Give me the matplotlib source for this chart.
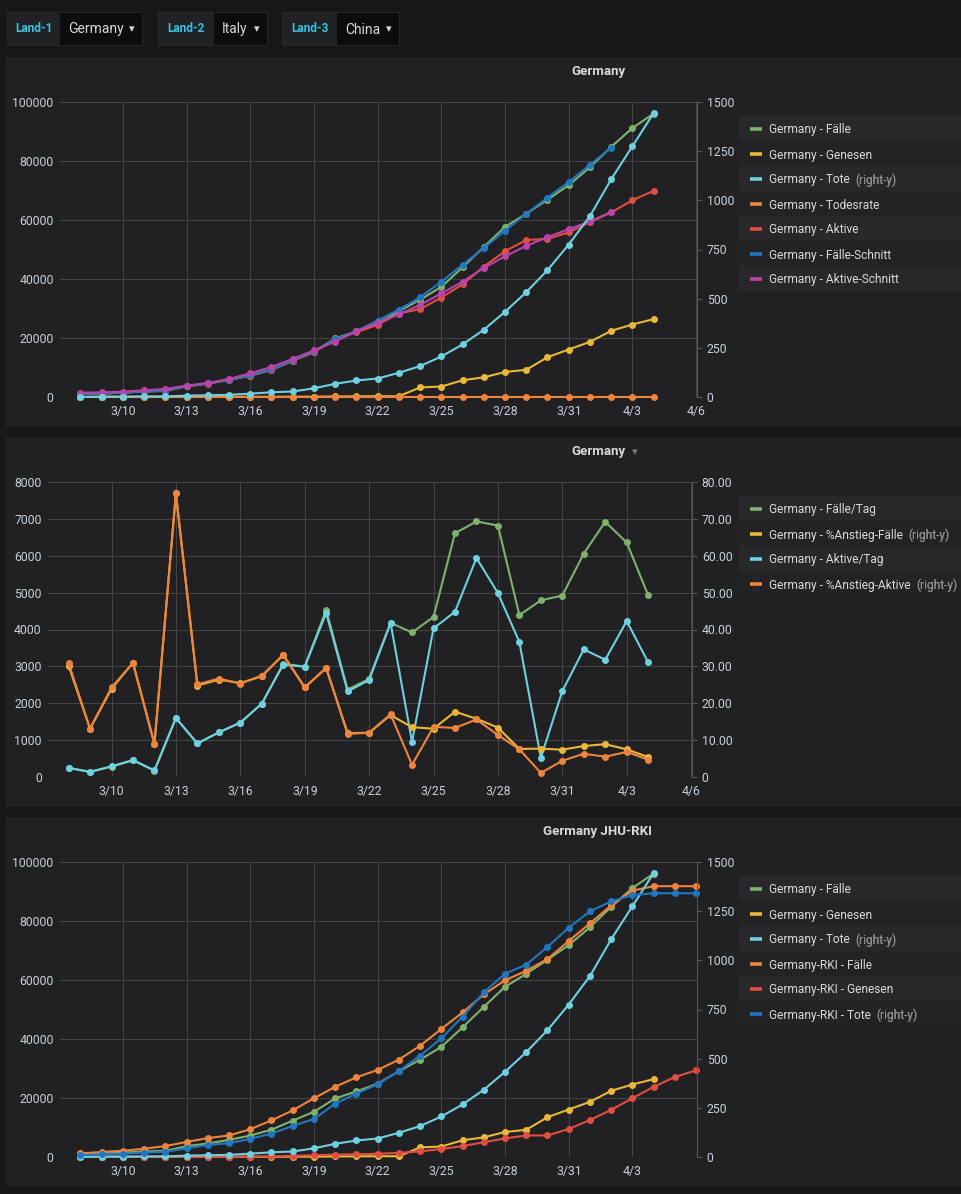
import matplotlib
matplotlib.use("Agg")
import matplotlib.pyplot as plt
from matplotlib.patches import Rectangle, FancyBboxPatch
import pandas as pd

# Bildgröße in Pixeln (dpi=100)
W, H = 962, 1194

BG = "#161719"
PANEL = "#212124"
GRID = "#444447"
TXT = "#c7d0d9"
TITLE = "#d8d9da"

GREEN, YELLOW, CYAN = "#7EB26D", "#EAB839", "#6ED0E0"
ORANGE, RED, BLUE, PURPLE = "#EF843C", "#E24D42", "#1F78C1", "#BA43A9"

# ── Daten ──
dates_jhu = pd.date_range("2020-03-08", "2020-04-04")      # 28 Tage
dates_schnitt = pd.date_range("2020-03-08", "2020-04-02")  # 26 Tage
dates_rki = pd.date_range("2020-03-08", "2020-04-06")      # 30 Tage
tick_dates = pd.date_range("2020-03-10", "2020-04-06", freq="3D")
tick_labels = ["3/10", "3/13", "3/16", "3/19", "3/22", "3/25", "3/28", "3/31", "4/3", "4/6"]

faelle = [1040, 1176, 1457, 1908, 2078, 3675, 4585, 5795, 7272, 9257, 12327, 15320,
          19848, 22213, 24873, 29056, 32986, 37323, 43938, 50871, 57695, 62095,
          66885, 71808, 77872, 84794, 91159, 96092]
genesen = [18, 18, 18, 25, 25, 46, 46, 46, 67, 67, 105, 113, 180, 233, 266, 266,
           3243, 3547, 5673, 6658, 8481, 9211, 13500, 16100, 18700, 22440, 24575, 26400]
tote = [0, 2, 2, 3, 3, 7, 9, 11, 17, 24, 28, 44, 67, 84, 94, 123, 157, 206, 267,
        342, 433, 533, 645, 775, 920, 1107, 1275, 1444]
todesrate = [0.0, 0.17, 0.14, 0.16, 0.14, 0.19, 0.2, 0.19, 0.23, 0.26, 0.23, 0.29,
             0.34, 0.38, 0.38, 0.42, 0.48, 0.55, 0.61, 0.67, 0.75, 0.86, 0.96, 1.08,
             1.18, 1.31, 1.4, 1.5]
aktive = [1020, 1160, 1440, 1880, 2050, 3620, 4530, 5740, 7190, 9170, 12190, 15160,
          19600, 21900, 24500, 28300, 29800, 33700, 38200, 44200, 49400, 53200,
          53600, 55800, 59300, 62550, 66700, 69900]
faelle_schnitt = [1050, 1200, 1480, 1900, 2150, 3650, 4600, 5850, 7350, 9400, 12400,
                  15500, 19500, 22300, 25900, 29600, 33800, 39100, 44800, 50500,
                  56400, 62100, 67600, 72900, 78700, 84500]
aktive_schnitt = [1470, 1580, 1800, 2260, 2700, 3850, 4750, 6100, 8000, 10200, 12900,
                  15800, 18800, 22300, 25200, 28000, 31200, 35100, 39100, 43700,
                  47700, 51200, 54200, 56900, 59500, 62700]

faelle_tag = [241, 136, 281, 451, 170, 1597, 910, 1210, 1477, 1985, 3070, 2993, 4530,
              2370, 2660, 4180, 3920, 4340, 6610, 6930, 6820, 4390, 4790, 4920, 6060,
              6920, 6360, 4930]
anstieg_faelle = [30.2, 13.1, 23.9, 31.0, 8.9, 76.9, 24.8, 26.4, 25.5, 27.3, 33.2,
                  24.3, 29.6, 11.9, 12.0, 16.8, 13.5, 13.1, 17.7, 15.8, 13.4, 7.6,
                  7.7, 7.4, 8.4, 8.9, 7.5, 5.4]
aktive_tag = [250, 140, 290, 460, 180, 1600, 910, 1210, 1470, 1990, 3050, 2990, 4450,
              2320, 2630, 4180, 950, 4030, 4480, 5940, 4990, 3660, 520, 2330, 3460,
              3180, 4230, 3110]
anstieg_aktive = [30.9, 13.1, 24.3, 30.9, 9.0, 76.9, 25.1, 26.7, 25.3, 27.5, 33.0,
                  24.3, 29.5, 11.7, 12.0, 17.0, 3.3, 13.6, 13.3, 15.6, 11.4, 7.5,
                  1.1, 4.4, 6.3, 5.5, 6.8, 4.7]

rki_faelle = [1200, 1700, 2100, 2800, 3700, 5100, 6400, 7300, 9400, 12400, 15800,
              19900, 23800, 27000, 29500, 33000, 37700, 43400, 49000, 55100, 59900,
              63100, 67100, 73200, 79200, 85300, 90300, 91800, 91800, 91800]
rki_genesen = [50, 50, 50, 50, 50, 50, 50, 100, 150, 200, 400, 600, 800, 900, 1100,
               1400, 1900, 2700, 3700, 5000, 6300, 7300, 7300, 9500, 12500, 16000,
               19900, 23800, 27100, 29400]
rki_tote = [10, 14, 17, 22, 27, 44, 61, 70, 92, 119, 158, 193, 271, 322, 370, 437,
            515, 603, 714, 837, 932, 978, 1068, 1166, 1249, 1300, 1332, 1341, 1341, 1341]

plt.rcParams.update({
    "font.family": ["Roboto", "DejaVu Sans"],
    "font.size": 8.6,
})

fig = plt.figure(figsize=(W / 100, H / 100), dpi=100)
fig.patch.set_facecolor(BG)


def fx(x):
    return x / W


def fy(y):
    return 1 - y / H


def rect(x0, y0, x1, y1, color, z=-5, edge="none"):
    fig.add_artist(Rectangle((fx(x0), fy(y1)), (x1 - x0) / W, (y1 - y0) / H,
                             transform=fig.transFigure, facecolor=color,
                             edgecolor=edge, lw=0.7, zorder=z))


def ftext(x, y, s, **kw):
    return fig.text(fx(x), fy(y), s, **kw)


# ── Kopfzeile mit Variablen ──
for x0, xm, x1, name, val in [(7, 60, 142, "Land-1", "Germany"),
                              (158, 214, 267, "Land-2", "Italy"),
                              (282, 337, 399, "Land-3", "China")]:
    rect(x0, 12, x1, 45, "none", z=-4, edge="#26272b")
    rect(x0, 12, xm, 45, "#202226")
    rect(xm, 12, x1, 45, "#0b0c0e")
    ftext((x0 + xm) / 2, 29, name, color="#33c3dc", fontsize=8.6,
          fontweight="bold", ha="center", va="center")
    ftext(xm + 8, 29.5, val, color=TITLE, fontsize=10, ha="left", va="center")
    ftext(x1 - 10, 29, "▾", color=TITLE, fontsize=8, ha="center", va="center",
          family=["DejaVu Sans"])


def setup_axes(x0, y0, x1, y1, ylim_l, yt_l, ylab_l, ylim_r, yt_r, ylab_r, show_last):
    ax = fig.add_axes([fx(x0), fy(y1), (x1 - x0) / W, (y1 - y0) / H])
    ax.set_facecolor("none")
    for s in ax.spines.values():
        s.set_visible(False)
    ax.set_xlim(pd.Timestamp("2020-03-07 01:00"), pd.Timestamp("2020-04-06 01:00"))
    ax.set_ylim(*ylim_l)
    ax.set_yticks(yt_l)
    ax.set_yticklabels(ylab_l)
    ticks = tick_dates if show_last else tick_dates[:-1]
    ax.set_xticks(ticks)
    ax.set_xticklabels(tick_labels[:len(ticks)])
    ax.tick_params(axis="both", length=0, colors=TXT, labelsize=8.8)
    ax.tick_params(axis="y", pad=4.5)
    ax.tick_params(axis="x", pad=5.5)
    ax.grid(True, color=GRID, lw=0.75)
    ax.set_axisbelow(True)

    axr = ax.twinx()
    axr.set_facecolor("none")
    for s in axr.spines.values():
        s.set_visible(False)
    axr.spines["right"].set_visible(True)
    axr.spines["right"].set_color("#58585c")
    axr.spines["right"].set_linewidth(0.75)
    axr.set_ylim(*ylim_r)
    axr.set_yticks(yt_r)
    axr.set_yticklabels(ylab_r)
    axr.tick_params(axis="y", length=3.6, width=0.75, color="#58585c",
                    colors=TXT, labelsize=8.8, pad=3.5)
    return ax, axr


def draw(ax, x, y, color):
    ax.plot(x, y, color=color, lw=1.5, marker="o", ms=4, clip_on=False)


def legend(top, rows):
    for i, (label, color, right) in enumerate(rows):
        y0 = top + i * 25
        rect(739, y0, 962, y0 + 25, "#28282b" if i % 2 == 0 else "#232326", z=-4)
        fig.add_artist(plt.Line2D([fx(750), fx(762)], [fy(y0 + 12.5)] * 2,
                                  transform=fig.transFigure, color=color, lw=2.6,
                                  solid_capstyle="butt"))
        t = ftext(769, y0 + 12.5, label, color=TITLE, fontsize=8.6,
                  ha="left", va="center_baseline")
        if right:
            t2 = plt.annotate("(right-y)", xy=(1, 0.5), xycoords=t, xytext=(4, 0),
                              textcoords="offset points", color="#8e8e8e",
                              fontsize=8.6, ha="left", va="center",
                              annotation_clip=False)
            fig.add_artist(t2)


# ── Panel 1 ──
rect(6, 57, 962, 427, PANEL)
ftext(598, 71, "Germany", color=TITLE, fontsize=9.5, fontweight="bold",
      ha="center", va="center")
left_ticks = [0, 20000, 40000, 60000, 80000, 100000]
left_labs = [str(v) for v in left_ticks]
right_ticks = [0, 250, 500, 750, 1000, 1250, 1500]
right_labs = [str(v) for v in right_ticks]
ax1, ax1r = setup_axes(60, 102, 697, 397, (0, 100000), left_ticks, left_labs,
                       (0, 1500), right_ticks, right_labs, True)
draw(ax1, dates_jhu, faelle, GREEN)
draw(ax1, dates_jhu, genesen, YELLOW)
draw(ax1, dates_jhu, todesrate, ORANGE)
draw(ax1, dates_jhu, aktive, RED)
draw(ax1, dates_schnitt, faelle_schnitt, BLUE)
draw(ax1, dates_schnitt, aktive_schnitt, PURPLE)
draw(ax1r, dates_jhu, tote, CYAN)
legend(116, [("Germany - Fälle", GREEN, False),
             ("Germany - Genesen", YELLOW, False),
             ("Germany - Tote", CYAN, True),
             ("Germany - Todesrate", ORANGE, False),
             ("Germany - Aktive", RED, False),
             ("Germany - Fälle-Schnitt", BLUE, False),
             ("Germany - Aktive-Schnitt", PURPLE, False)])

# ── Panel 2 ──
rect(6, 437, 962, 807, PANEL)
ftext(598, 451, "Germany", color=TITLE, fontsize=9.5, fontweight="bold",
      ha="center", va="center")
ftext(635, 452, "▾", color="#7b7b80", fontsize=8, ha="center", va="center",
      family=["DejaVu Sans"])
l2_ticks = list(range(0, 8001, 1000))
r2_ticks = list(range(0, 81, 10))
r2_labs = ["0"] + [f"{v:.2f}" for v in r2_ticks[1:]]
ax2, ax2r = setup_axes(48, 482, 692, 777, (0, 8000), l2_ticks,
                       [str(v) for v in l2_ticks], (0, 80), r2_ticks, r2_labs, True)
draw(ax2, dates_jhu, faelle_tag, GREEN)
draw(ax2, dates_jhu, aktive_tag, CYAN)
draw(ax2r, dates_jhu, anstieg_faelle, YELLOW)
draw(ax2r, dates_jhu, anstieg_aktive, ORANGE)
legend(496, [("Germany - Fälle/Tag", GREEN, False),
             ("Germany - %Anstieg-Fälle", YELLOW, True),
             ("Germany - Aktive/Tag", CYAN, False),
             ("Germany - %Anstieg-Aktive", ORANGE, True)])

# ── Panel 3 ──
rect(6, 817, 962, 1186, PANEL)
ftext(598, 831, "Germany JHU-RKI", color=TITLE, fontsize=9.5, fontweight="bold",
      ha="center", va="center")
ax3, ax3r = setup_axes(60, 862, 697, 1157, (0, 100000), left_ticks, left_labs,
                       (0, 1500), right_ticks, right_labs, False)
draw(ax3, dates_jhu, faelle, GREEN)
draw(ax3, dates_jhu, genesen, YELLOW)
draw(ax3, dates_rki, rki_faelle, ORANGE)
draw(ax3, dates_rki, rki_genesen, RED)
draw(ax3r, dates_jhu, tote, CYAN)
draw(ax3r, dates_rki, rki_tote, BLUE)
legend(876, [("Germany - Fälle", GREEN, False),
             ("Germany - Genesen", YELLOW, False),
             ("Germany - Tote", CYAN, True),
             ("Germany-RKI - Fälle", ORANGE, False),
             ("Germany-RKI - Genesen", RED, False),
             ("Germany-RKI - Tote", BLUE, True)])

fig.savefig("out.png", dpi=100, facecolor=BG)
